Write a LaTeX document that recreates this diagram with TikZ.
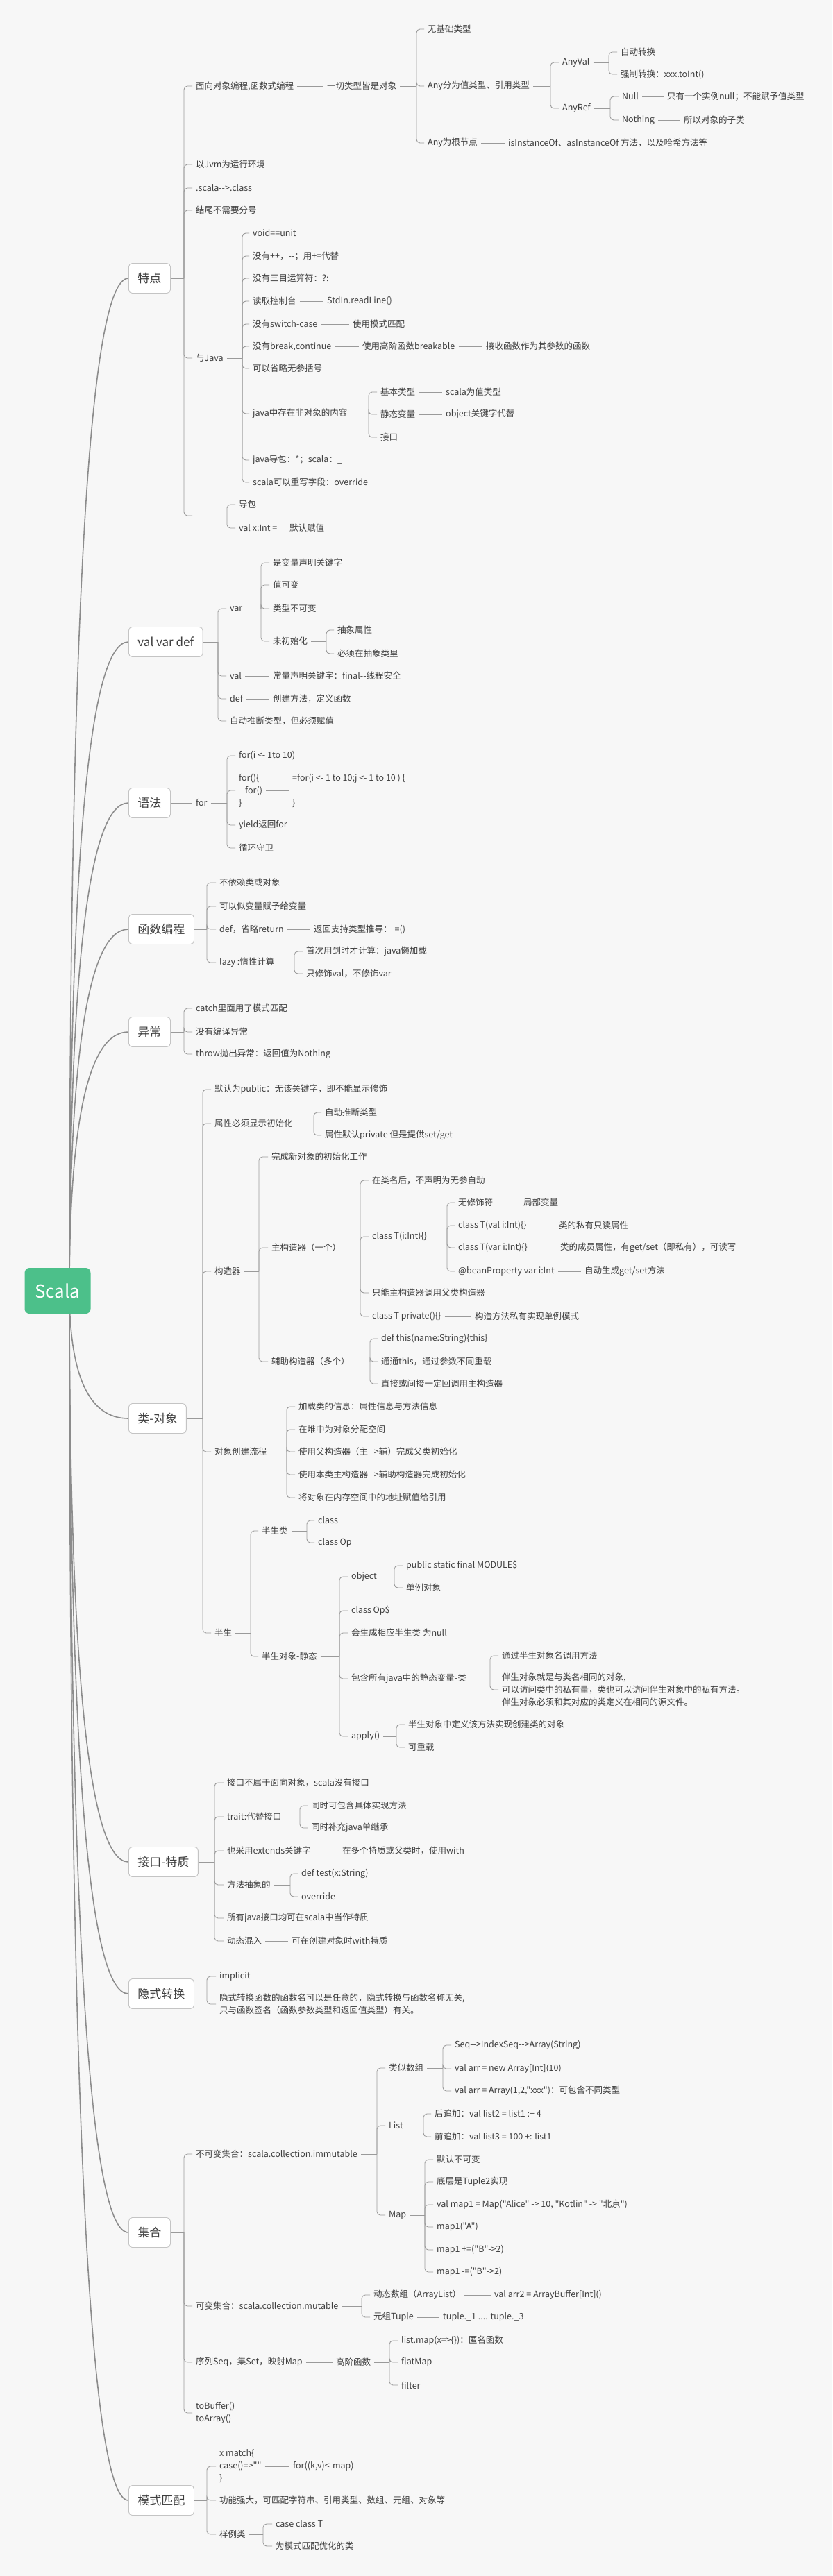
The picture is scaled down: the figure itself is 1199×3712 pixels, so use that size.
\documentclass[tikz,border=0pt]{standalone}
\usepackage{fontspec}
\setmainfont{Noto Sans CJK SC}
\newfontfamily\cjkf{Noto Sans CJK SC}
\usetikzlibrary{calc}
\pgfdeclarelayer{bg}
\pgfsetlayers{bg,main}
\definecolor{bgc}{HTML}{F7F7F7}
\definecolor{txtc}{HTML}{3F3F3F}
\definecolor{lnc}{HTML}{9A9A9A}
\definecolor{rlc}{HTML}{8C8C8C}
\definecolor{boxc}{HTML}{C4C4C4}
\definecolor{rootg}{HTML}{4CC08A}
\newcommand\myfs{\cjkf\fontsize{12.5pt}{18pt}\selectfont}
\newcommand\myfl{\cjkf\fontsize{17pt}{20pt}\selectfont}
\newcommand\myfr{\cjkf\fontsize{26pt}{30pt}\selectfont}
\tikzset{
 t/.style={anchor=west, xshift=-5pt, inner xsep=5pt, inner ysep=2pt, text=txtc, font=\myfs},
 ml/.style={t, align=left},
 l1/.style={anchor=west, draw=boxc, line width=0.9pt, fill=white, rounded corners=5pt, minimum height=43pt, inner xsep=13pt, text=txtc, font=\myfl},
 rootbox/.style={fill=rootg, text=white, rounded corners=7pt, minimum width=95pt, minimum height=66pt, font=\myfr},
 br/.style={draw=lnc, line width=0.9pt},
 rl/.style={draw=rlc, line width=1.6pt},
}
\newcommand\kids[3]{%
  \draw[br] (#1.east) -- (#1.east -| #2,0);
  \foreach \ch in {#3} {\draw[br, rounded corners=5pt] (#1.east -| #2,0) |- (\ch.west);}
}
\newcommand\lnk[2]{\draw[br] (#1.east) -- (#2.west);}
\newcommand\rlink[1]{\draw[rl] (rootc) .. controls ($(rootc)!0.6667!(rootc |- #1.west)$) and ($(#1.west)!0.6667!(rootc |- #1.west)$) .. (#1.west);}
\begin{document}
\begin{tikzpicture}[x=1pt,y=-1pt]
\begin{pgfonlayer}{bg}
\fill[bgc] (0,0) rectangle (1199,3712);
\end{pgfonlayer}
\useasboundingbox (0,0) rectangle (1199,3712);

% root
\node[rootbox] (root) at (83,1860) {Scala};
\coordinate (rootc) at (100,1860);

% level 1
\node[l1] (tedian) at (185,401) {特点};
\node[l1] (vvd) at (185,925) {val var def};
\node[l1] (yufa) at (185,1157) {语法};
\node[l1] (hsbc) at (185,1339) {函数编程};
\node[l1] (yc) at (185,1487) {异常};
\node[l1] (ldx) at (185,2044) {类-对象};
\node[l1] (jktz) at (185,2683) {接口-特质};
\node[l1] (yszh) at (185,2873) {隐式转换};
\node[l1] (jh) at (185,3217) {集合};
\node[l1] (msp) at (185,3603) {模式匹配};

\begin{pgfonlayer}{bg}
\foreach \bx in {tedian,vvd,yufa,hsbc,yc,ldx,jktz,yszh,jh,msp} {\rlink{\bx}}
\end{pgfonlayer}

% ===== 特点
\node[t] (a1) at (282,124) {面向对象编程,函数式编程};
\node[t] (a1a) at (471,124) {一切类型皆是对象};
\node[t] (b1) at (616,42) {无基础类型};
\node[t] (b2) at (616,124) {Any分为值类型、引用类型};
\node[t] (b3) at (616,206) {Any为根节点};
\node[t] (b3a) at (732,206) {isInstanceOf、asInstanceOf 方法，以及哈希方法等};
\node[t] (anyval) at (810,90) {AnyVal};
\node[t] (zd) at (894,75) {自动转换};
\node[t] (qz) at (894,107) {强制转换：xxx.toInt()};
\node[t] (anyref) at (810,156) {AnyRef};
\node[t] (nul) at (896,139) {Null};
\node[t] (nula) at (961,139) {只有一个实例null；不能赋予值类型};
\node[t] (noth) at (896,173) {Nothing};
\node[t] (notha) at (985,173) {所以对象的子类};
\node[t] (a2) at (282,237) {以Jvm为运行环境};
\node[t] (a3) at (282,271) {.scala-{}->.class};
\node[t] (a4) at (282,303) {结尾不需要分号};
\node[t] (a5) at (282,516) {与Java};
\node[t] (c1) at (364,336) {void==unit};
\node[t] (c2) at (364,369) {没有++，-{}-；用+=代替};
\node[t] (c3) at (364,401) {没有三目运算符：?:};
\node[t] (c4) at (364,434) {读取控制台};
\node[t] (c4a) at (471,434) {StdIn.readLine()};
\node[t] (c5) at (364,467) {没有switch-case};
\node[t] (c5a) at (508,467) {使用模式匹配};
\node[t] (c6) at (364,499) {没有break,continue};
\node[t] (c6a) at (522,499) {使用高阶函数breakable};
\node[t] (c6b) at (700,499) {接收函数作为其参数的函数};
\node[t] (c7) at (364,531) {可以省略无参括号};
\node[t] (c8) at (364,596) {java中存在非对象的内容};
\node[t] (d1) at (548,565) {基本类型};
\node[t] (d1a) at (642,565) {scala为值类型};
\node[t] (d2) at (548,597) {静态变量};
\node[t] (d2a) at (642,597) {object关键字代替};
\node[t] (d3) at (548,630) {接口};
\node[t] (c9) at (364,663) {java导包：*；scala：\_};
\node[t] (c10) at (364,695) {scala可以重写字段：override};
\node[t] (a6) at (282,743) {\_};
\node[t] (a6a) at (344,727) {导包};
\node[t] (a6b) at (344,761) {val x:Int = \_\hspace{8pt}默认赋值};

\kids{tedian}{265}{a1,a2,a3,a4,a5,a6}
\lnk{a1}{a1a}
\kids{a1a}{600}{b1,b2,b3}
\lnk{b3}{b3a}
\kids{b2}{793}{anyval,anyref}
\kids{anyval}{877}{zd,qz}
\kids{anyref}{879}{nul,noth}
\lnk{nul}{nula}
\lnk{noth}{notha}
\kids{a5}{349}{c1,c2,c3,c4,c5,c6,c7,c8,c9,c10}
\lnk{c4}{c4a}
\lnk{c5}{c5a}
\lnk{c6}{c6a}
\lnk{c6a}{c6b}
\kids{c8}{531}{d1,d2,d3}
\lnk{d1}{d1a}
\lnk{d2}{d2a}
\kids{a6}{327}{a6a,a6b}

% ===== val var def
\node[t] (var) at (331,877) {var};
\node[t] (val) at (331,974) {val};
\node[t] (def) at (331,1007) {def};
\node[t] (zdtd) at (331,1039) {自动推断类型，但必须赋值};
\node[t] (e1) at (393,811) {是变量声明关键字};
\node[t] (e2) at (393,843) {值可变};
\node[t] (e3) at (393,877) {类型不可变};
\node[t] (e4) at (393,924) {未初始化};
\node[t] (e4a) at (486,908) {抽象属性};
\node[t] (e4b) at (486,942) {必须在抽象类里};
\node[t] (vala) at (393,974) {常量声明关键字：final-{}-线程安全};
\node[t] (defa) at (393,1007) {创建方法，定义函数};
\kids{vvd}{314}{var,val,def,zdtd}
\kids{var}{376}{e1,e2,e3,e4}
\kids{e4}{470}{e4a,e4b}
\lnk{val}{vala}
\lnk{def}{defa}

% ===== 语法
\node[t] (for) at (282,1157) {for};
\node[t] (f1) at (344,1089) {for(i <- 1to 10)};
\node[ml] (f2) at (344,1139) {for()\{\\\hspace*{9pt}for()\\\}};
\node[ml] (f2a) at (421,1139) {=for(i <- 1 to 10;j <- 1 to 10 ) \{\\\mbox{}\\\}};
\node[t] (f3) at (344,1189) {yield返回for};
\node[t] (f4) at (344,1222) {循环守卫};
\lnk{yufa}{for}
\kids{for}{327}{f1,f2,f3,f4}
\lnk{f2}{f2a}

% ===== 函数编程
\node[t] (g1) at (316,1272) {不依赖类或对象};
\node[t] (g2) at (316,1306) {可以似变量赋予给变量};
\node[t] (g3) at (316,1339) {def，省略return};
\node[t] (g3a) at (452,1339) {返回支持类型推导：\hspace{4pt}=()};
\node[t] (g4) at (316,1387) {lazy :惰性计算};
\node[t] (g4a) at (441,1371) {首次用到时才计算：java懒加载};
\node[t] (g4b) at (441,1403) {只修饰val，不修饰var};
\kids{hsbc}{298}{g1,g2,g3,g4}
\lnk{g3}{g3a}
\kids{g4}{424}{g4a,g4b}

% ===== 异常
\node[t] (h1) at (282,1453) {catch里面用了模式匹配};
\node[t] (h2) at (282,1487) {没有编译异常};
\node[t] (h3) at (282,1519) {throw抛出异常：返回值为Nothing};
\kids{yc}{265}{h1,h2,h3}

% ===== 类-对象
\node[t] (k1) at (309,1570) {默认为public：无该关键字，即不能显示修饰};
\node[t] (k2) at (309,1619) {属性必须显示初始化};
\node[t] (k2a) at (468,1603) {自动推断类型};
\node[t] (k2b) at (468,1636) {属性默认private 但是提供set/get};
\node[t] (k3) at (309,1832) {构造器};
\node[t] (m1) at (391,1667) {完成新对象的初始化工作};
\node[t] (m2) at (391,1798) {主构造器（一个）};
\node[t] (n1) at (536,1701) {在类名后，不声明为无参自动};
\node[t] (n2) at (536,1782) {class T(i:Int)\{\}};
\node[t] (o1) at (660,1733) {无修饰符};
\node[t] (o1a) at (754,1733) {局部变量};
\node[t] (o2) at (660,1766) {class T(val i:Int)\{\}};
\node[t] (o2a) at (805,1766) {类的私有只读属性};
\node[t] (o3) at (660,1798) {class T(var i:Int)\{\}};
\node[t] (o3a) at (807,1798) {类的成员属性，有get/set（即私有），可读写};
\node[t] (o4) at (660,1832) {@beanProperty var i:Int};
\node[t] (o4a) at (842,1832) {自动生成get/set方法};
\node[t] (n3) at (536,1863) {只能主构造器调用父类构造器};
\node[t] (n4) at (536,1897) {class T private()\{\}};
\node[t] (n4a) at (684,1897) {构造方法私有实现单例模式};
\node[t] (m3) at (391,1962) {辅助构造器（多个）};
\node[t] (p1) at (549,1929) {def this(name:String)\{this\}};
\node[t] (p2) at (549,1962) {通通this，通过参数不同重载};
\node[t] (p3) at (549,1994) {直接或间接一定回调用主构造器};
\node[t] (k4) at (309,2092) {对象创建流程};
\node[t] (q1) at (430,2027) {加载类的信息：属性信息与方法信息};
\node[t] (q2) at (430,2060) {在堆中为对象分配空间};
\node[t] (q3) at (430,2092) {使用父构造器（主-{}->辅）完成父类初始化};
\node[t] (q4) at (430,2125) {使用本类主构造器-{}->辅助构造器完成初始化};
\node[t] (q5) at (430,2158) {将对象在内存空间中的地址赋值给引用};
\node[t] (k5) at (309,2353) {半生};
\node[t] (r1) at (377,2206) {半生类};
\node[t] (r1a) at (458,2191) {class};
\node[t] (r1b) at (458,2223) {class Op};
\node[t] (r2) at (377,2387) {半生对象-静态};
\node[t] (s1) at (506,2272) {object};
\node[t] (s1a) at (585,2256) {public static final MODULE\$};
\node[t] (s1b) at (585,2288) {单例对象};
\node[t] (s2) at (506,2321) {class Op\$};
\node[t] (s3) at (506,2353) {会生成相应半生类 为null};
\node[t] (s4) at (506,2419) {包含所有java中的静态变量-类};
\node[t] (s4a) at (723,2386) {通过半生对象名调用方法};
\node[ml] (s4b) at (723,2435) {伴生对象就是与类名相同的对象,\\可以访问类中的私有量，类也可以访问伴生对象中的私有方法。\\伴生对象必须和其对应的类定义在相同的源文件。};
\node[t] (s5) at (506,2502) {apply()};
\node[t] (s5a) at (588,2485) {半生对象中定义该方法实现创建类的对象};
\node[t] (s5b) at (588,2518) {可重载};
\kids{ldx}{292}{k1,k2,k3,k4,k5}
\kids{k2}{452}{k2a,k2b}
\kids{k3}{373}{m1,m2,m3}
\kids{m2}{519}{n1,n2,n3,n4}
\kids{n2}{644}{o1,o2,o3,o4}
\lnk{o1}{o1a}
\lnk{o2}{o2a}
\lnk{o3}{o3a}
\lnk{o4}{o4a}
\lnk{n4}{n4a}
\kids{m3}{533}{p1,p2,p3}
\kids{k4}{413}{q1,q2,q3,q4,q5}
\kids{k5}{361}{r1,r2}
\kids{r1}{442}{r1a,r1b}
\kids{r2}{489}{s1,s2,s3,s4,s5}
\kids{s1}{568}{s1a,s1b}
\kids{s4}{706}{s4a,s4b}
\kids{s5}{571}{s5a,s5b}

% ===== 接口-特质
\node[t] (u1) at (327,2569) {接口不属于面向对象，scala没有接口};
\node[t] (u2) at (327,2618) {trait:代替接口};
\node[t] (u2a) at (448,2602) {同时可包含具体实现方法};
\node[t] (u2b) at (448,2634) {同时补充java单继承};
\node[t] (u3) at (327,2667) {也采用extends关键字};
\node[t] (u3a) at (493,2667) {在多个特质或父类时，使用with};
\node[t] (u4) at (327,2716) {方法抽象的};
\node[t] (u4a) at (434,2700) {def test(x:String)};
\node[t] (u4b) at (434,2733) {override};
\node[t] (u5) at (327,2764) {所有java接口均可在scala中当作特质};
\node[t] (u6) at (327,2797) {动态混入};
\node[t] (u6a) at (420,2797) {可在创建对象时with特质};
\kids{jktz}{309}{u1,u2,u3,u4,u5,u6}
\kids{u2}{432}{u2a,u2b}
\lnk{u3}{u3a}
\kids{u4}{418}{u4a,u4b}
\lnk{u6}{u6a}

% ===== 隐式转换
\node[t] (v1) at (316,2848) {implicit};
\node[ml] (v2) at (316,2888) {隐式转换函数的函数名可以是任意的，隐式转换与函数名称无关,\\只与函数签名（函数参数类型和返回值类型）有关。};
\kids{yszh}{298}{v1,v2}

% ===== 集合
\node[t] (w1) at (282,3104) {不可变集合：scala.collection.immutable};
\node[t] (x1) at (560,2980) {类似数组};
\node[t] (x1a) at (655,2947) {Seq-{}->IndexSeq-{}->Array(String)};
\node[t] (x1b) at (655,2981) {val arr = new Array[Int](10)};
\node[t] (x1c) at (655,3013) {val arr = Array(1,2,"xxx")：可包含不同类型};
\node[t] (x2) at (560,3063) {List};
\node[t] (x2a) at (626,3046) {后追加：val list2 = list1 :+ 4};
\node[t] (x2b) at (626,3079) {前追加：val list3 = 100 +: list1};
\node[t] (x3) at (560,3192) {Map};
\node[t] (y1) at (629,3112) {默认不可变};
\node[t] (y2) at (629,3144) {底层是Tuple2实现};
\node[t] (y3) at (629,3177) {val map1 = Map("Alice" -> 10, "Kotlin" -> "北京")};
\node[t] (y4) at (629,3209) {map1("A")};
\node[t] (y5) at (629,3242) {map1 +=("B"->2)};
\node[t] (y6) at (629,3274) {map1 -=("B"->2)};
\node[t] (w2) at (282,3323) {可变集合：scala.collection.mutable};
\node[t] (z1) at (538,3307) {动态数组（ArrayList）};
\node[t] (z1a) at (712,3307) {val arr2 = ArrayBuffer[Int]()};
\node[t] (z2) at (538,3339) {元组Tuple};
\node[t] (z2a) at (638,3339) {tuple.\_1 .... tuple.\_3};
\node[t] (w3) at (282,3404) {序列Seq，集Set，映射Map};
\node[t] (w3a) at (484,3404) {高阶函数};
\node[t] (h4a) at (578,3373) {list.map(x=>\{\})：匿名函数};
\node[t] (h4b) at (578,3404) {flatMap};
\node[t] (h4c) at (578,3437) {filter};
\node[ml] (w4) at (282,3477) {toBuffer()\\toArray()};
\kids{jh}{265}{w1,w2,w3,w4}
\kids{w1}{543}{x1,x2,x3}
\kids{x1}{638}{x1a,x1b,x1c}
\kids{x2}{610}{x2a,x2b}
\kids{x3}{612}{y1,y2,y3,y4,y5,y6}
\kids{w2}{521}{z1,z2}
\lnk{z1}{z1a}
\lnk{z2}{z2a}
\lnk{w3}{w3a}
\kids{w3a}{561}{h4a,h4b,h4c}

% ===== 模式匹配
\node[ml] (pm1) at (316,3554) {x match\{\\case()=>""\\\}};
\node[t] (pm1a) at (422,3554) {for((k,v)<-map)};
\node[t] (pm2) at (316,3603) {功能强大，可匹配字符串、引用类型、数组、元组、对象等};
\node[t] (pm3) at (316,3652) {样例类};
\node[t] (pm3a) at (397,3637) {case class T};
\node[t] (pm3b) at (397,3669) {为模式匹配优化的类};
\kids{msp}{298}{pm1,pm2,pm3}
\lnk{pm1}{pm1a}
\kids{pm3}{379}{pm3a,pm3b}
\end{tikzpicture}
\end{document}
